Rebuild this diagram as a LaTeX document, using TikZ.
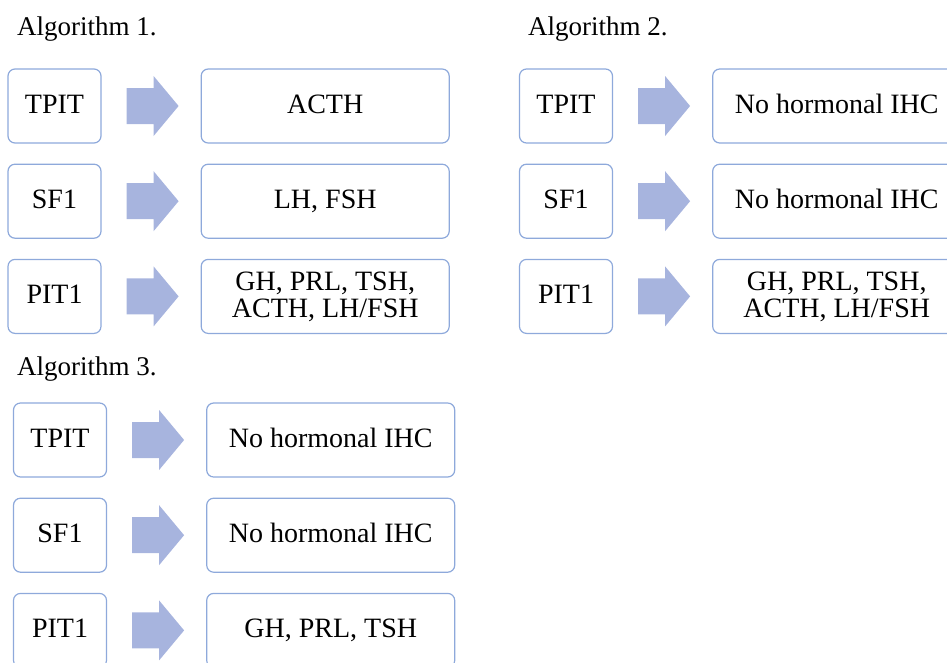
\documentclass[tikz,border=0pt]{standalone}
\usepackage{fontspec}
\setmainfont{Liberation Serif}
\usetikzlibrary{calc,positioning}
\definecolor{boxline}{RGB}{142,169,219}
\definecolor{arrowfill}{RGB}{167,180,222}

\begin{document}
\begin{tikzpicture}[x=1pt,y=-1pt]

\tikzset{
title/.style={anchor=base west,inner sep=0pt,font=\rmfamily\fontsize{27}{27}\selectfont},
ihcbox/.style={draw=boxline,line width=1.2pt,rounded corners=7pt,minimum height=74pt,inner sep=0pt,align=center,font=\rmfamily\fontsize{28}{27}\selectfont},
oneline/.style={text height=20pt,text depth=6pt},
tfbox/.style={ihcbox,oneline,minimum width=93pt},
resbox/.style={ihcbox,minimum width=248pt},
blockarrow/.style={fill=arrowfill,draw=none,
  to path={($(\tikztostart.east)+(25,-18)$) -- ($(\tikztostart.east)+(52,-18)$) -- ($(\tikztostart.east)+(52,-30)$) -- ($(\tikztotarget.west)+(-22,0)$) -- ($(\tikztostart.east)+(52,30)$) -- ($(\tikztostart.east)+(52,18)$) -- ($(\tikztostart.east)+(25,18)$) -- cycle}}
}

\clip (0,0) rectangle (947,662);

% Titles
\node[title] (alg1) at (17,35) {Algorithm 1.};
\node[title] (alg2) at (528,35) {Algorithm 2.};
\node[title] (alg3) at (17,375) {Algorithm 3.};

% Algorithm 1
\node[tfbox] (tpit1) at (54.5,106) {TPIT};
\node[tfbox,below=20pt of tpit1] (sf1) {SF1};
\node[tfbox,below=20pt of sf1] (pit1) {PIT1};
\node[resbox,oneline,right=99pt of tpit1] (acth1) {ACTH};
\node[resbox,oneline,right=99pt of sf1] (lhfsh1) {LH, FSH};
\node[resbox,right=99pt of pit1] (all1) {GH, PRL, TSH,\\ACTH, LH/FSH};

% Algorithm 2
\node[tfbox] (tpit2) at (566,106) {TPIT};
\node[tfbox,below=20pt of tpit2] (sf2) {SF1};
\node[tfbox,below=20pt of sf2] (pit2) {PIT1};
\node[resbox,oneline,right=99pt of tpit2] (none2a) {No hormonal IHC};
\node[resbox,oneline,right=99pt of sf2] (none2b) {No hormonal IHC};
\node[resbox,right=99pt of pit2] (all2) {GH, PRL, TSH,\\ACTH, LH/FSH};

% Algorithm 3
\node[tfbox] (tpit3) at (60,440) {TPIT};
\node[tfbox,below=20pt of tpit3] (sf3) {SF1};
\node[tfbox,below=20pt of sf3] (pit3) {PIT1};
\node[resbox,oneline,right=99pt of tpit3] (none3a) {No hormonal IHC};
\node[resbox,oneline,right=99pt of sf3] (none3b) {No hormonal IHC};
\node[resbox,oneline,right=99pt of pit3] (ghprl3) {GH, PRL, TSH};

% Arrows
\path[blockarrow] (tpit1) to (acth1);
\path[blockarrow] (sf1) to (lhfsh1);
\path[blockarrow] (pit1) to (all1);

\path[blockarrow] (tpit2) to (none2a);
\path[blockarrow] (sf2) to (none2b);
\path[blockarrow] (pit2) to (all2);

\path[blockarrow] (tpit3) to (none3a);
\path[blockarrow] (sf3) to (none3b);
\path[blockarrow] (pit3) to (ghprl3);

\end{tikzpicture}
\end{document}
